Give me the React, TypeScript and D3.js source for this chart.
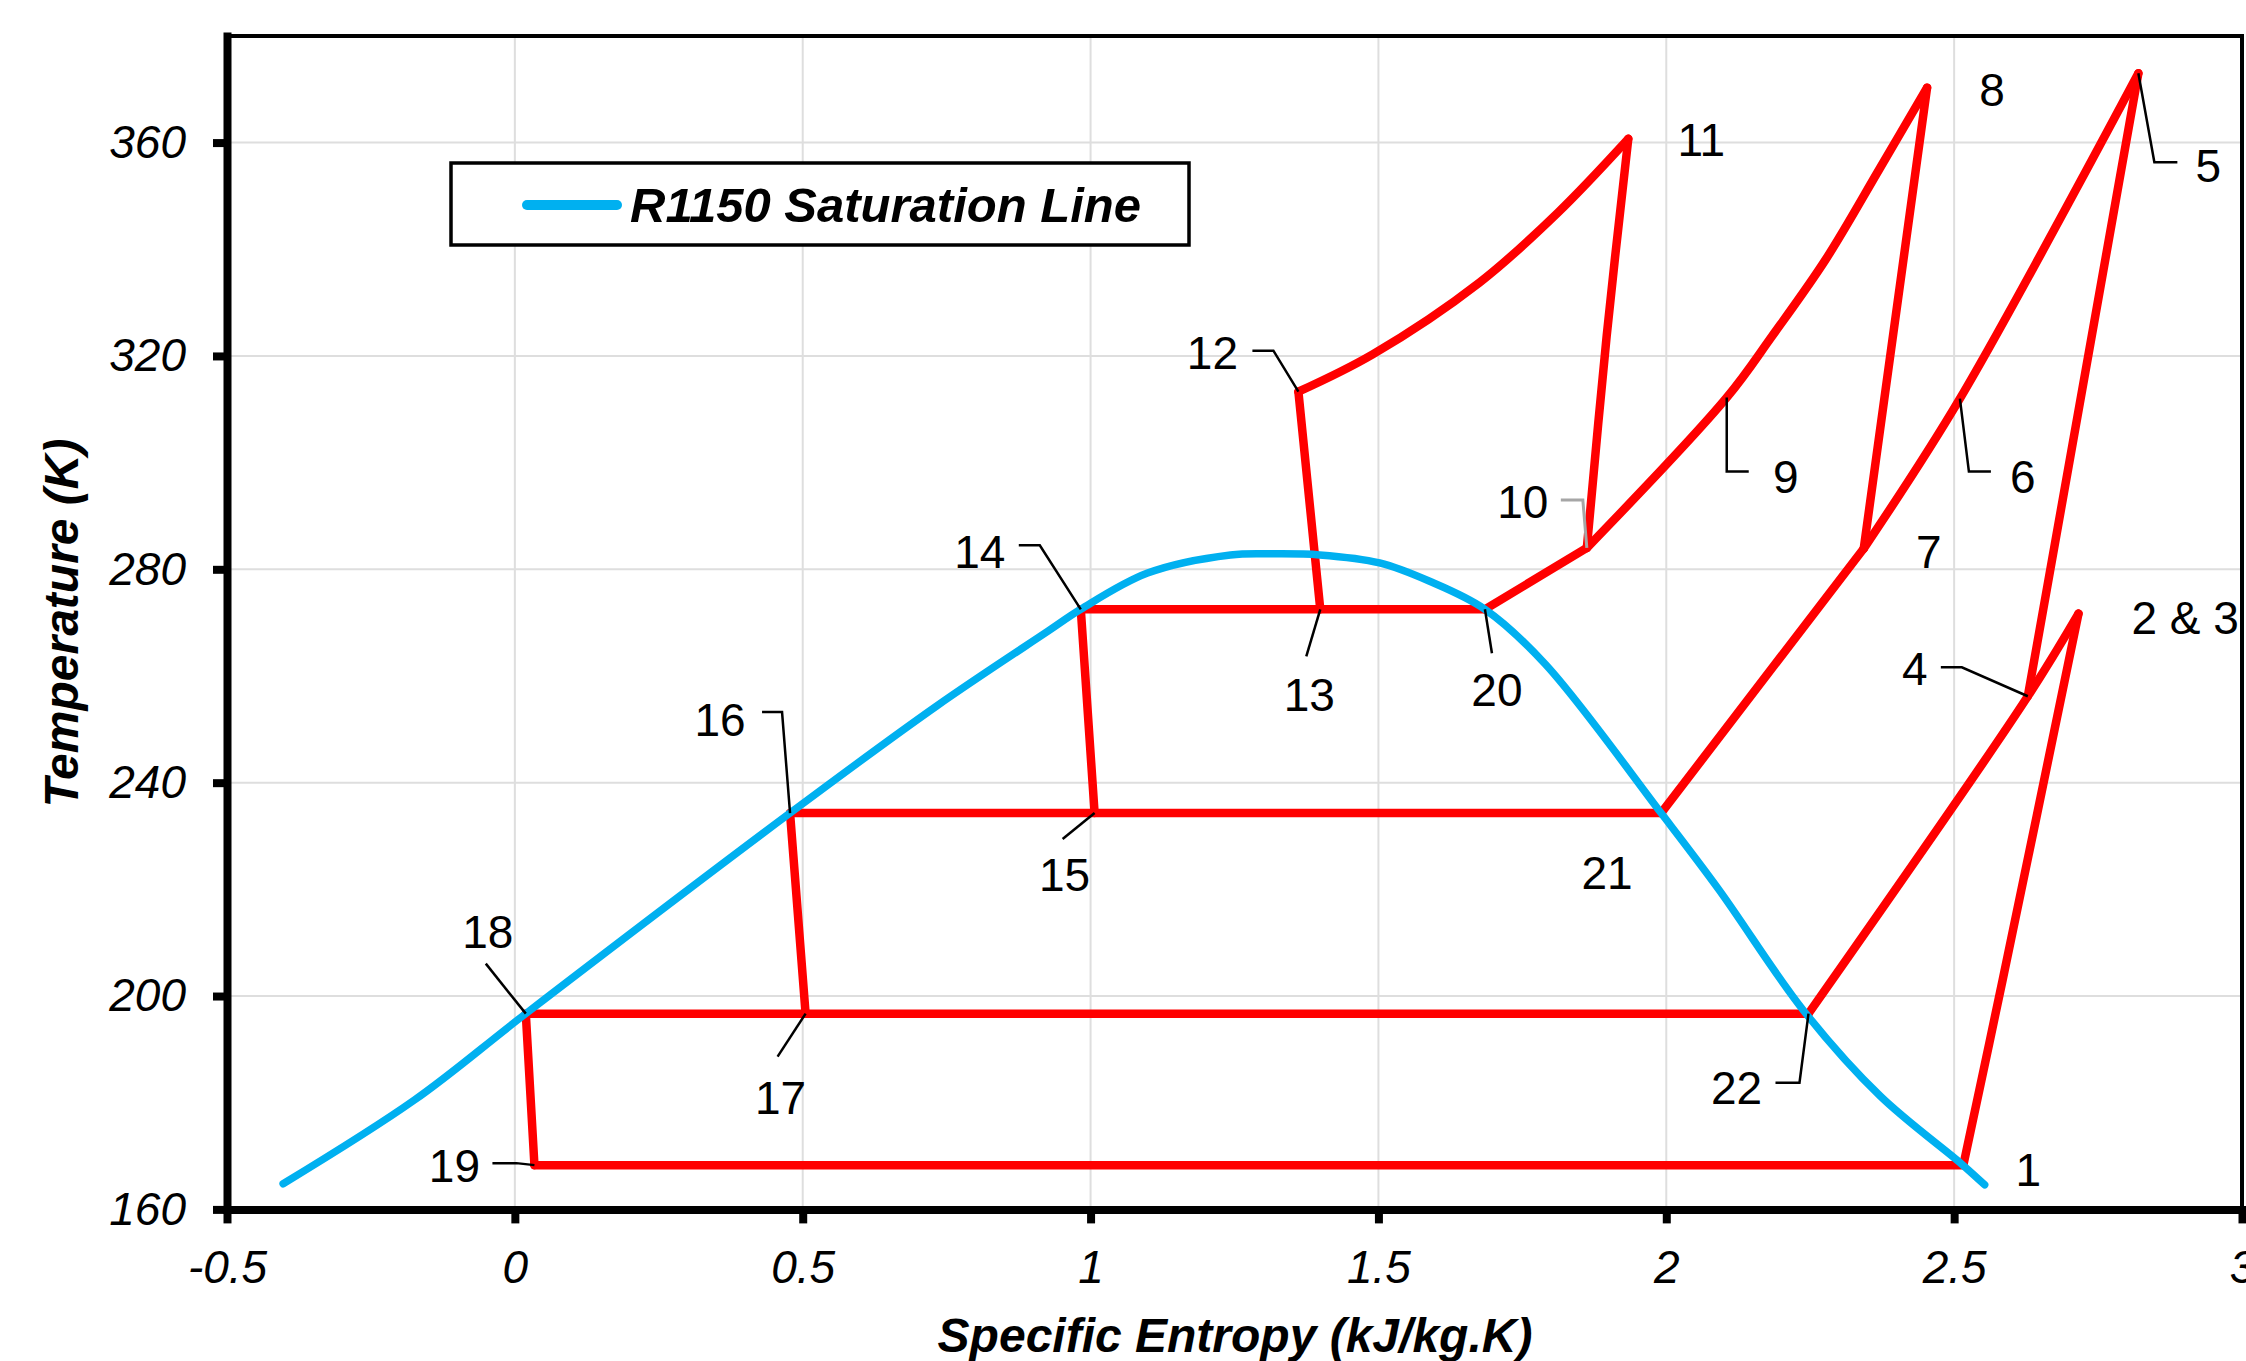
import React, { useEffect, useRef } from "react";
import * as d3 from "d3";

// R1150 saturation dome (entropy kJ/kg.K, temperature K)
const satEntropy = [
  -0.4025, -0.1745, 0.019, 0.478, 0.733, 0.926, 0.983, 1.099, 1.243, 1.32,
  1.398, 1.502, 1.588, 1.685, 1.79, 1.991, 2.091, 2.239, 2.372, 2.513, 2.553,
];
const satTemp = [
  164.8, 180.5, 196.7, 234.3, 254.4, 268.4, 272.5, 279.3, 282.7, 282.9,
  282.7, 281.2, 277.8, 272.5, 262.2, 234.3, 220, 197.2, 181.2, 168.5, 164.6,
];

// cycle state points
const stateLabels = [
  "1", "2 & 3", "4", "5", "6", "7", "8", "9", "10", "11", "12",
  "13", "14", "15", "16", "17", "18", "19", "20", "21", "22",
];
const stateEntropy = [
  2.516, 2.716, 2.628, 2.82, 2.51, 2.343, 2.453, 2.105, 1.862, 1.934, 1.361,
  1.399, 0.983, 1.007, 0.478, 0.505, 0.019, 0.034, 1.685, 1.991, 2.247,
];
const stateTemp = [
  168.3, 271.7, 256.2, 373, 312, 283.9, 370.3, 312.2, 284, 360.7, 313.3,
  272.5, 272.5, 234.3, 234.3, 196.7, 196.7, 168.3, 272.5, 234.3, 196.7,
];

// process legs: state labels, with extra [s, T] readings on the curved legs
const processPaths: (string | [number, number])[][] = [
  ["19", "1"],
  ["1", [2.584, 202.9], "2 & 3"],
  ["22", "4", "2 & 3"],
  ["5", "4"],
  ["7", "6", "5"],
  ["8", "7"],
  ["21", "7"],
  ["10", "9", [2.183, 323.6], [2.277, 338.1], [2.37, 355], "8"],
  ["11", [1.8965, 323.8], "10"],
  ["20", "10"],
  ["12", [1.49, 320.3], [1.676, 333.8], [1.812, 346.9], "11"],
  ["13", "12"],
  ["14", "20"],
  ["14", "15"],
  ["16", "21"],
  ["16", "17"],
  ["18", "22"],
  ["18", "19"],
];

const xTicks = [-0.5, 0, 0.5, 1, 1.5, 2, 2.5, 3];
const yTicks = [160, 200, 240, 280, 320, 360];

// label placement in px, relative to the state point
const labelLayout: Record<
  string,
  { dx: number; dy: number; anchor?: string; leader?: [number, number][]; grey?: boolean }
> = {
  "1": { dx: 65, dy: 5 },
  "2 & 3": { dx: 53, dy: 4, anchor: "start" },
  "4": { dx: -113, dy: -27, leader: [[-87, -29], [-66, -29], [0, 0]] },
  "5": { dx: 70, dy: 93, leader: [[0, 0], [16, 89], [39, 89]] },
  "6": { dx: 63, dy: 78, leader: [[0, 0], [9, 73], [31, 73]] },
  "7": { dx: 65, dy: 3 },
  "8": { dx: 65, dy: 2 },
  "9": { dx: 59, dy: 79, leader: [[0, 0], [0, 74], [22, 74]] },
  "10": { dx: -64, dy: -46, leader: [[0, 0], [-4, -48], [-26, -48]], grey: true },
  "11": { dx: 73, dy: 1 },
  "12": { dx: -86, dy: -39, leader: [[-46, -41], [-25, -41], [0, 0]] },
  "13": { dx: -11, dy: 86, leader: [[0, 0], [-14, 47]] },
  "14": { dx: -101, dy: -57, leader: [[-62, -64], [-41, -64], [0, 0]] },
  "15": { dx: -30, dy: 62, leader: [[0, 0], [-32, 26]] },
  "16": { dx: -70, dy: -93, leader: [[-28, -101], [-8, -101], [0, 0]] },
  "17": { dx: -25, dy: 84, leader: [[0, 0], [-28, 43]] },
  "18": { dx: -38, dy: -82, leader: [[-40, -50], [0, 0]] },
  "19": { dx: -80, dy: 1, leader: [[-42, -2], [-18, -2], [0, 0]] },
  "20": { dx: 12, dy: 81, leader: [[0, 0], [7, 44]] },
  "21": { dx: -54, dy: 60 },
  "22": { dx: -72, dy: 74, leader: [[-33, 69], [-9, 69], [0, 0]] },
};

const FONT = "'Liberation Sans', Arial, sans-serif";

const App = () => {
  const svgRef = useRef<SVGSVGElement>(null);

  useEffect(() => {
    const svg = d3.select(svgRef.current);
    svg.selectAll("*").remove();

    const x = d3.scaleLinear().domain([-0.5, 3]).range([227, 2242]);
    const y = d3.scaleLinear().domain([160, 380]).range([1209.4, 35.9]);

    // gridlines
    svg
      .append("g")
      .selectAll("line")
      .data(xTicks.slice(1, -1))
      .join("line")
      .attr("x1", (d) => x(d))
      .attr("x2", (d) => x(d))
      .attr("y1", y(380))
      .attr("y2", y(160))
      .attr("stroke", "#dedede")
      .attr("stroke-width", 2);
    svg
      .append("g")
      .selectAll("line")
      .data(yTicks.slice(1))
      .join("line")
      .attr("x1", x(-0.5))
      .attr("x2", x(3))
      .attr("y1", (d) => y(d))
      .attr("y2", (d) => y(d))
      .attr("stroke", "#dedede")
      .attr("stroke-width", 2);

    // top / right frame
    svg
      .append("path")
      .attr("d", `M${x(-0.5)},${y(380)}H${x(3)}V${y(160)}`)
      .attr("fill", "none")
      .attr("stroke", "#000")
      .attr("stroke-width", 4);

    const line = d3
      .line<[number, number]>()
      .x((d) => x(d[0]))
      .y((d) => y(d[1]))
      .curve(d3.curveCatmullRom.alpha(0.5));

    // cycle
    const statePos = new Map<string, [number, number]>(
      stateLabels.map((l, i) => [l, [stateEntropy[i], stateTemp[i]]])
    );
    const legs = processPaths.map((p) =>
      p.map((q) => (typeof q === "string" ? statePos.get(q)! : q))
    );
    svg
      .append("g")
      .selectAll("path")
      .data(legs)
      .join("path")
      .attr("d", (d) => line(d))
      .attr("fill", "none")
      .attr("stroke", "#ff0000")
      .attr("stroke-width", 8.5)
      .attr("stroke-linejoin", "round")
      .attr("stroke-linecap", "round");

    // saturation line
    const satPts = satEntropy.map((s, i) => [s, satTemp[i]] as [number, number]);
    svg
      .append("path")
      .attr("d", line(satPts))
      .attr("fill", "none")
      .attr("stroke", "#00b0f0")
      .attr("stroke-width", 7.5)
      .attr("stroke-linecap", "round");

    // state labels + leaders
    const labels = svg.append("g");
    stateLabels.forEach((l, i) => {
      const px = x(stateEntropy[i]);
      const py = y(stateTemp[i]);
      const lay = labelLayout[l];
      if (lay.leader) {
        labels
          .append("path")
          .attr("d", d3.line()(lay.leader.map(([a, b]) => [px + a, py + b] as [number, number])))
          .attr("fill", "none")
          .attr("stroke", lay.grey ? "#a6a6a6" : "#000")
          .attr("stroke-width", lay.grey ? 3 : 2.5);
      }
      labels
        .append("text")
        .attr("x", px + lay.dx)
        .attr("y", py + lay.dy + 16)
        .attr("text-anchor", lay.anchor || "middle")
        .attr("font-family", FONT)
        .attr("font-size", 46)
        .attr("fill", "#000")
        .text(l);
    });

    // axes
    const xAxis = d3
      .axisBottom(x)
      .tickValues(xTicks)
      .tickSizeInner(14)
      .tickSizeOuter(0)
      .tickPadding(27)
      .tickFormat((d) => String(d));
    const yAxis = d3
      .axisLeft(y)
      .tickValues(yTicks)
      .tickSizeInner(14)
      .tickSizeOuter(0)
      .tickPadding(27)
      .tickFormat((d) => String(d));

    const gx = svg.append("g").attr("transform", `translate(0,${y(160)})`).call(xAxis);
    const gy = svg.append("g").attr("transform", `translate(${x(-0.5)},0)`).call(yAxis);
    [gx, gy].forEach((g) => {
      g.attr("font-family", FONT).attr("font-size", 46).attr("font-style", "italic");
      g.select(".domain").attr("stroke-width", 8).attr("stroke-linecap", "square");
      g.selectAll(".tick line").attr("stroke-width", 8);
      g.selectAll(".tick text").attr("fill", "#000");
    });

    // axis titles
    svg
      .append("text")
      .attr("x", 1235)
      .attr("y", 1352)
      .attr("text-anchor", "middle")
      .attr("font-family", FONT)
      .attr("font-size", 48)
      .attr("font-weight", "bold")
      .attr("font-style", "italic")
      .text("Specific Entropy (kJ/kg.K)");
    svg
      .append("text")
      .attr("transform", "translate(78,623) rotate(-90)")
      .attr("text-anchor", "middle")
      .attr("font-family", FONT)
      .attr("font-size", 48)
      .attr("font-weight", "bold")
      .attr("font-style", "italic")
      .text("Temperature (K)");

    // legend
    const lg = svg.append("g");
    lg.append("rect")
      .attr("x", 451)
      .attr("y", 163)
      .attr("width", 738)
      .attr("height", 82)
      .attr("fill", "#fff")
      .attr("stroke", "#000")
      .attr("stroke-width", 3.5);
    lg.append("line")
      .attr("x1", 527)
      .attr("x2", 617)
      .attr("y1", 205)
      .attr("y2", 205)
      .attr("stroke", "#00b0f0")
      .attr("stroke-width", 10)
      .attr("stroke-linecap", "round");
    lg.append("text")
      .attr("x", 630)
      .attr("y", 222)
      .attr("font-family", FONT)
      .attr("font-size", 49)
      .attr("font-weight", "bold")
      .attr("font-style", "italic")
      .text("R1150 Saturation Line");
  }, []);

  return (
    <svg
      ref={svgRef}
      width={2246}
      height={1361}
      style={{ position: "absolute", left: 0, top: 0, background: "#fff" }}
    ></svg>
  );
};

export default App;
